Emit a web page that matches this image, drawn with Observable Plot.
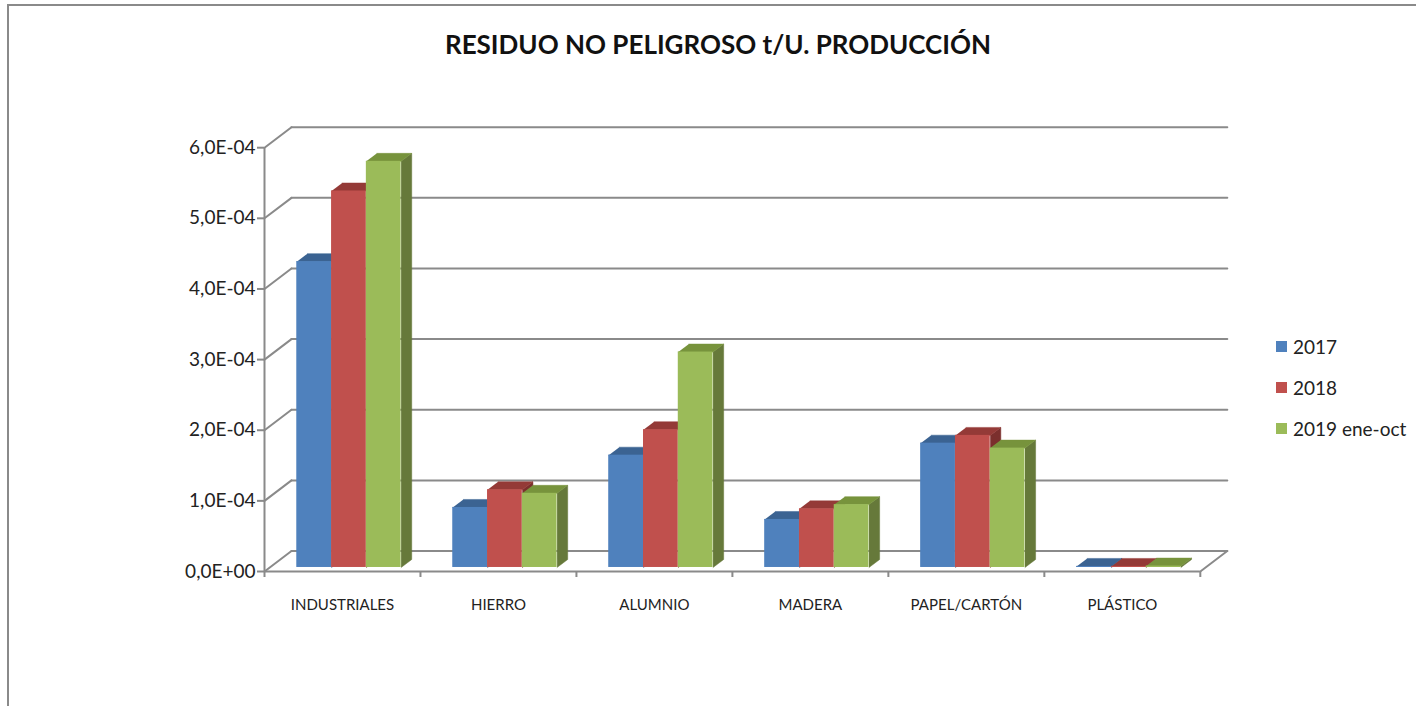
<!DOCTYPE html>
<html><head><meta charset="utf-8">
<script src="https://cdn.jsdelivr.net/npm/d3@7"></script>
<script src="https://cdn.jsdelivr.net/npm/@observablehq/plot@0.6"></script>
<style>
body{margin:0;background:#fff;font-family:Lato,"Open Sans",sans-serif}
#wrap{position:relative;width:1416px;height:706px;overflow:hidden;background:#fff}
#frame{position:absolute;left:7px;top:4px;width:1420px;height:710px;border-left:2px solid #8a8a8a;border-top:2px solid #8a8a8a;box-sizing:border-box}
#title{position:absolute;left:0;top:28px;width:1436px;text-align:center;font-weight:700;font-size:26px;line-height:32px;color:#111}
#chart{position:absolute;left:0;top:80px}
#legend{position:absolute;left:1276px;top:326px;font-size:19px;color:#222}
#legend .row{height:41px;display:flex;align-items:center;white-space:nowrap}
#legend .sw{width:11px;height:11px;margin-right:6px;display:inline-block}
</style></head>
<body>
<div id="wrap">
  <div id="frame"></div>
  <div id="title">RESIDUO NO PELIGROSO t/U. PRODUCCIÓN</div>
  <div id="chart"></div>
  <div id="legend"></div>
</div>
<script>
const categories = ["INDUSTRIALES", "HIERRO", "ALUMNIO", "MADERA", "PAPEL/CARTÓN", "PLÁSTICO"];
const seriesNames = ["2017", "2018", "2019 ene-oct"];
const values2017 = [4.33e-4, 0.85e-4, 1.59e-4, 0.68e-4, 1.76e-4, 0.015e-4];
const values2018 = [5.33e-4, 1.10e-4, 1.95e-4, 0.83e-4, 1.87e-4, 0.015e-4];
const values2019 = [5.75e-4, 1.05e-4, 3.05e-4, 0.89e-4, 1.69e-4, 0.02e-4];
const yTicks = [0, 1e-4, 2e-4, 3e-4, 4e-4, 5e-4, 6e-4];

const seriesValues = [values2017, values2018, values2019];
const frontColors = ["#4F81BD", "#C0504D", "#9BBB59"];
const topColors = ["#3B6392", "#943A37", "#77933C"];
const sideColors = ["#385D8A", "#7B2F2D", "#66793A"];

// 3D geometry (in data units)
const dxBack = 0.173, dyBack = 0.29e-4;     // depth of the back wall
const dxBar = 0.068, dyBar = 0.113e-4;      // depth of each bar
const base = 0.057e-4;                       // bars sit slightly in depth
const groupStart = 0.207, barW = 0.223;

const fmt = v => v === 0 ? "0,0E+00" : (v / 1e-4).toFixed(1).replace(".", ",") + "E-04";

// wall lines
const backLines = [], wallLines = [];
yTicks.forEach(v => {
  backLines.push({x: dxBack, y: v + dyBack, k: v}, {x: categories.length + dxBack, y: v + dyBack, k: v});
  wallLines.push({x: 0, y: v, k: v}, {x: dxBack, y: v + dyBack, k: v});
});
const floorSide = [{x: categories.length, y: 0}, {x: categories.length + dxBack, y: dyBack}];

const barMarks = [];
seriesValues.forEach((vals, s) => {
  const fronts = [], sides = [], tops = [];
  vals.forEach((v, i) => {
    const x1 = i + groupStart + s * barW, x2 = x1 + barW, t = base + v;
    fronts.push({x1, x2, y1: base, y2: t});
    const id = categories[i];
    sides.push({id, x: x2, y: base}, {id, x: x2 + dxBar, y: base + dyBar}, {id, x: x2 + dxBar, y: t + dyBar}, {id, x: x2, y: t});
    tops.push({id, x: x1, y: t}, {id, x: x2, y: t}, {id, x: x2 + dxBar, y: t + dyBar}, {id, x: x1 + dxBar, y: t + dyBar});
  });
  barMarks.push(
    Plot.line(sides, {x: "x", y: "y", z: "id", fill: sideColors[s], stroke: sideColors[s], strokeWidth: 0.5}),
    Plot.line(tops, {x: "x", y: "y", z: "id", fill: topColors[s], stroke: topColors[s], strokeWidth: 0.5}),
    Plot.rectY(fronts, {x1: "x1", x2: "x2", y1: "y1", y2: "y2", fill: frontColors[s]})
  );
});

const gridColor = "#8a8a8a";
const chart = Plot.plot({
  width: 1416,
  height: 626,
  marginLeft: 264,
  marginRight: 185,
  marginTop: 46,
  marginBottom: 135,
  style: {fontFamily: "Lato, 'Open Sans', sans-serif", background: "transparent", overflow: "visible"},
  x: {domain: [0, 6.2], axis: null},
  y: {domain: [0, 6.3e-4], axis: null},
  marks: [
    Plot.line(backLines, {x: "x", y: "y", z: "k", stroke: gridColor, strokeWidth: 2}),
    Plot.line(wallLines, {x: "x", y: "y", z: "k", stroke: gridColor, strokeWidth: 2}),
    Plot.line(floorSide, {x: "x", y: "y", stroke: gridColor, strokeWidth: 2}),
    Plot.ruleY([0], {x1: 0, x2: categories.length, stroke: gridColor, strokeWidth: 2}),
    Plot.ruleX([0], {y1: 0, y2: 6e-4, stroke: gridColor, strokeWidth: 2}),
    Plot.axisY({ticks: yTicks, tickFormat: fmt, tickSize: 7, tickPadding: 2, fontSize: 19, stroke: gridColor, strokeWidth: 2, fill: "#222", label: null}),
    Plot.axisX({ticks: d3.range(categories.length + 1), tickFormat: () => "", tickSize: 6, stroke: gridColor, strokeWidth: 2, label: null}),
    ...barMarks,
    Plot.text(categories, {x: (d, i) => i + 0.5, y: 0, text: d => d, dy: 34, fontSize: 15, fill: "#222"})
  ]
});
document.getElementById("chart").appendChild(chart);

const legend = document.getElementById("legend");
seriesNames.forEach((name, s) => {
  const row = document.createElement("div");
  row.className = "row";
  row.innerHTML = `<span class="sw" style="background:${frontColors[s]}"></span><span>${name}</span>`;
  legend.appendChild(row);
});
</script>
</body></html>
